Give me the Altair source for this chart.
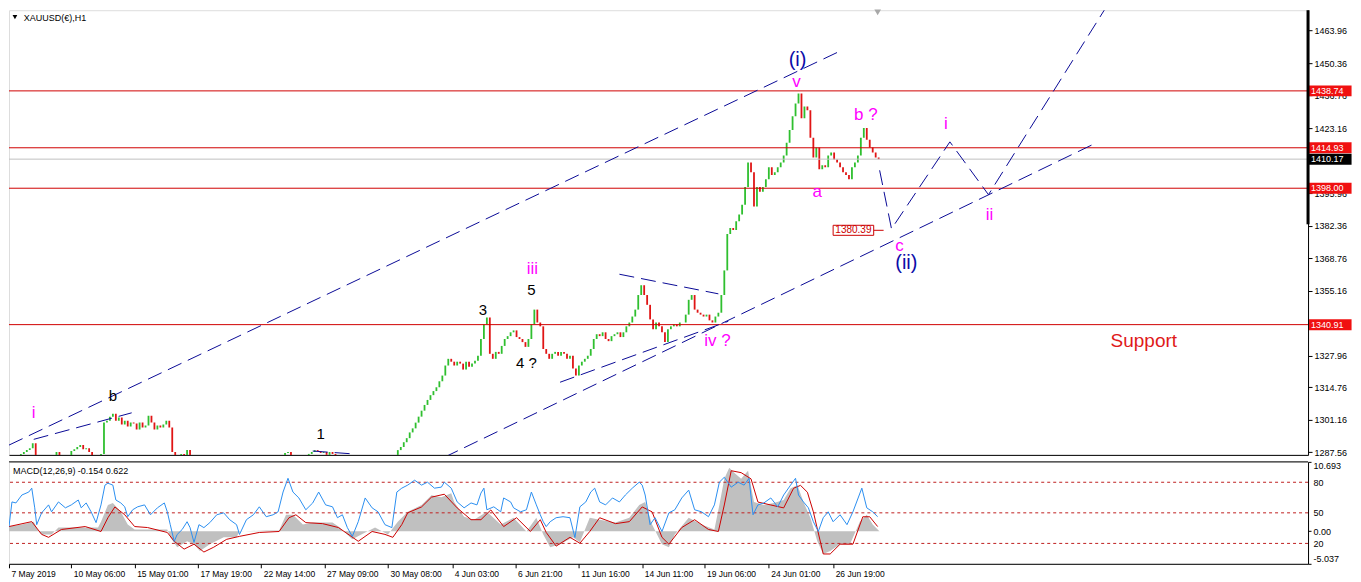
import json
import altair as alt
import pandas as pd

# ---------------- data ----------------
bar_x = list(range(0, 880, 3))
close = [
    1283.5, 1284.3, 1284.7, 1285.5, 1286.8, 1287.6, 1288.4, 1289.2, 1291.3, 1285.5,
    1284.3, 1283.5, 1282.7, 1283.5, 1284.3, 1285.1, 1287.6, 1285.5, 1284.3, 1284.7,
    1285.5, 1288.0, 1288.8, 1289.7, 1290.5, 1288.8, 1289.2, 1287.6, 1285.5, 1284.7,
    1285.1, 1286.8, 1299.9, 1300.7, 1302.4, 1303.6, 1300.7, 1302.0, 1299.1, 1300.7,
    1298.3, 1299.9, 1299.5, 1297.0, 1299.9, 1297.9, 1298.7, 1302.8, 1299.9, 1297.0,
    1298.7, 1297.9, 1299.1, 1300.7, 1297.9, 1287.6, 1284.3, 1285.5, 1286.8, 1285.5,
    1288.4, 1285.9, 1283.5, 1281.4, 1280.2, 1279.4, 1278.5, 1279.4, 1280.2, 1281.0,
    1279.8, 1278.5, 1277.3, 1278.1, 1279.0, 1280.2, 1281.0, 1281.8, 1280.6, 1279.4,
    1280.2, 1281.4, 1282.3, 1281.0, 1280.2, 1281.4, 1282.7, 1281.8, 1281.0, 1282.3,
    1283.5, 1284.3, 1285.5, 1287.2, 1287.6, 1285.5, 1284.3, 1283.5, 1284.3, 1285.1,
    1285.5, 1286.8, 1287.6, 1288.4, 1288.0, 1287.2, 1287.6, 1286.4, 1287.6, 1286.8,
    1285.1, 1283.9, 1282.7, 1281.4, 1280.6, 1279.8, 1279.0, 1279.4, 1280.2, 1281.0,
    1280.2, 1279.4, 1279.8, 1280.6, 1281.4, 1281.0, 1281.8, 1282.7, 1283.5, 1284.3,
    1285.5, 1288.4, 1289.7, 1291.7, 1293.4, 1295.8, 1297.5, 1299.9, 1302.4, 1304.9,
    1307.3, 1309.4, 1311.4, 1313.1, 1314.7, 1317.2, 1319.6, 1323.8, 1326.6, 1325.4,
    1323.8, 1325.4, 1324.6, 1322.1, 1325.4, 1323.3, 1324.6, 1325.8, 1327.9, 1334.9,
    1341.0, 1343.9, 1328.7, 1326.6, 1329.5, 1328.7, 1332.0, 1334.9, 1336.1, 1337.7,
    1338.5, 1335.7, 1334.9, 1333.6, 1331.6, 1334.9, 1341.0, 1347.2, 1341.8, 1340.2,
    1330.7, 1328.7, 1326.6, 1328.7, 1329.5, 1327.9, 1329.5, 1328.7, 1326.6, 1327.9,
    1322.5, 1319.6, 1323.8, 1325.4, 1326.6, 1327.9, 1330.7, 1334.9, 1336.9, 1336.1,
    1337.7, 1334.9, 1334.0, 1336.1, 1336.9, 1337.7, 1335.7, 1337.7, 1340.2, 1341.8,
    1344.3, 1347.2, 1353.3, 1357.4, 1353.3, 1349.2, 1343.1, 1339.0, 1341.8, 1340.2,
    1337.7, 1333.6, 1339.0, 1340.2, 1341.0, 1340.2, 1341.8, 1341.8, 1345.1, 1351.3,
    1353.3, 1347.2, 1345.9, 1345.1, 1344.3, 1345.1, 1342.7, 1341.8, 1344.3, 1345.9,
    1353.3, 1363.6, 1378.8, 1381.3, 1380.5, 1384.2, 1387.0, 1391.1, 1398.5, 1408.8,
    1404.7, 1390.3, 1398.5, 1396.5, 1398.5, 1401.8, 1406.8, 1403.5, 1404.7, 1406.8,
    1408.8, 1411.7, 1417.0, 1422.4, 1428.1, 1433.5, 1437.6, 1427.3, 1432.2, 1430.6,
    1419.1, 1410.9, 1415.0, 1405.9, 1407.6, 1406.8, 1411.7, 1412.9, 1410.0, 1408.8,
    1406.8, 1404.7, 1403.5, 1401.8, 1406.8, 1408.8, 1411.7, 1419.1, 1423.2, 1418.3,
    1415.0, 1412.9, 1410.9, 1410.17,
]

price_lines = [1438.74, 1414.93, 1398.00, 1340.91]
bid_price = 1410.17
box_levels = [1438.74, 1414.93, 1410.17, 1398.00, 1340.91]
box_kind = ["level", "level", "bid", "level", "level"]
target_price = 1380.39

price_ticks = [1463.96, 1450.36, 1436.76, 1423.16, 1409.56, 1395.96, 1382.36,
               1368.76, 1355.16, 1341.56, 1327.96, 1314.76, 1301.16, 1287.56]

time_ticks = [0, 63, 127, 191, 255, 319, 383, 448, 512, 576, 640, 703, 768, 833]
time_labels = ["7 May 2019", "10 May 06:00", "15 May 01:00", "17 May 19:00",
               "22 May 14:00", "27 May 09:00", "30 May 08:00", "4 Jun 03:00",
               "6 Jun 21:00", "11 Jun 16:00", "14 Jun 11:00", "19 Jun 06:00",
               "24 Jun 01:00", "26 Jun 19:00"]

trend_id = ["up", "up", "low", "low", "ib", "ib", "w1", "w1", "iv", "iv",
            "tri", "tri", "proj", "proj", "proj", "proj", "proj"]
trend_x = [0, 837, 440, 1097, 25, 124, 307, 348, 557, 727, 617, 717,
           880, 892, 951, 990, 1112]
trend_p = [1290.5, 1454.8, 1285.4, 1416.6, 1292.9, 1304.0, 1288.0, 1286.8,
           1316.8, 1342.3, 1362.0, 1353.8, 1405.5, 1381.0, 1417.4, 1395.3, 1475.8]

wave_text = ["i", "b", "1", "3", "5", "iii", "4 ?", "iv ?", "(i)", "v", "a",
             "b ?", "i", "c", "(ii)", "ii", "Support"]
wave_x = [25, 105, 315, 479, 528, 529, 523, 716, 797, 796, 817, 866, 947,
          900, 907, 991, 1147]
wave_p = [1304.0, 1311.0, 1295.0, 1347.2, 1355.4, 1364.0, 1325.0, 1334.0,
          1451.5, 1442.5, 1396.5, 1428.5, 1424.8, 1373.9, 1366.9, 1386.6, 1334.0]
wave_kind = ["minor", "count", "count", "count", "count", "minor", "count",
             "minor", "major", "minor", "minor", "minor", "minor", "minor",
             "major", "minor", "note"]

macd_x = [0, 13, 25, 30, 33, 43, 50, 70, 90, 93, 100, 105, 113, 120, 127, 140,
          160, 163, 170, 180, 187, 193, 203, 217, 230, 233, 260, 273, 280, 287,
          297, 307, 327, 333, 347, 360, 370, 383, 393, 403, 417, 427, 437, 447,
          450, 460, 470, 483, 497, 510, 523, 533, 540, 547, 557, 570, 577, 587,
          597, 613, 627, 637, 643, 650, 660, 667, 673, 687, 700, 713, 718, 723,
          728, 733, 740, 747, 753, 763, 773, 783, 790, 797, 803, 810, 817, 823,
          830, 840, 850, 860, 867, 873, 880]
macd_main = [0.71, 1.01, 1.47, -0.05, -0.50, -0.50, 0.56, 0.56, 0.56, 1.47,
             4.04, 4.34, 2.98, 1.01, 0.26, 0.26, 0.26, -0.95, -2.47, -1.56,
             -2.01, -3.07, -2.01, -0.95, -0.95, -0.05, 0.11, 0.11, 2.53, 2.53,
             1.01, 1.32, 1.32, 0.71, -1.26, -0.20, 0.56, -0.50, 1.47, 2.98,
             4.04, 5.55, 5.25, 5.85, 4.49, 2.22, 1.77, 2.98, 1.01, 2.07,
             -0.05, 2.07, -0.50, -2.47, -2.01, -0.95, -1.71, 2.07, 1.77, 1.32,
             2.07, 4.04, 4.49, 1.01, -2.01, -2.47, -0.50, 2.07, 1.01, 0.26, 4.04,
             8.07, 9.79, 9.03, 8.07, 9.33, 4.49, 4.04, 4.34, 4.80, 6.62,
             7.07, 4.49, 2.07, -1.56, -3.52, -3.07, -2.01, -2.01, 1.47, 2.53,
             1.01, -0.05]

signal_x = [0, 23, 33, 40, 53, 77, 93, 100, 107, 117, 127, 140, 160, 167, 177,
            187, 197, 207, 220, 233, 253, 273, 283, 290, 300, 317, 333, 353,
            367, 380, 388, 397, 403, 417, 427, 440, 453, 467, 477, 487, 500,
            513, 527, 537, 543, 553, 567, 577, 587, 597, 613, 627, 640, 650,
            660, 667, 680, 693, 707, 717, 723, 730, 740, 750, 757, 770, 783,
            793, 800, 807, 813, 823, 830, 840, 853, 863, 870, 878]
signal_val = [0.71, 1.47, -0.50, -0.95, 0.26, 0.71, -0.05, 2.07, 3.74, 2.53,
              0.71, 0.56, -0.20, -1.56, -2.77, -2.01, -3.22, -2.47, -1.26, -0.80,
              -0.20, -0.05, 2.07, 2.53, 1.32, 1.16, 0.56, -1.56, -0.05, -0.50,
              -0.95, 1.01, 2.83, 3.74, 5.25, 5.70, 3.59, 1.77, 1.77, 3.28,
              0.71, 2.07, -0.05, 1.77, -0.20, -2.31, -0.95, -1.86, -0.05, 2.07,
              1.16, 1.47, 3.74, 2.98, -0.95, -2.01, 0.56, 1.77, 0.26, -0.05,
              4.04, 9.33, 9.03, 8.07, 4.49, 4.04, 3.59, 6.62, 7.07, 6.01,
              2.98, -3.52, -3.52, -2.01, -2.01, 2.22, 2.22, 0.71]

osc_x = [0, 3, 7, 13, 20, 23, 26, 28, 33, 40, 43, 50, 57, 63, 70, 73, 78, 83,
         88, 93, 97, 100, 105, 108, 113, 117, 120, 125, 130, 137, 143, 150, 157,
         160, 163, 167, 170, 175, 180, 183, 187, 192, 197, 203, 210, 217, 223,
         230, 233, 240, 247, 253, 260, 267, 272, 277, 282, 287, 293, 300, 307,
         313, 320, 327, 332, 337, 342, 347, 353, 360, 367, 373, 380, 387, 392,
         397, 403, 410, 417, 423, 430, 437, 440, 447, 453, 460, 467, 473, 477,
         480, 483, 490, 497, 500, 507, 510, 517, 523, 528, 533, 537, 540, 543,
         547, 553, 560, 567, 572, 577, 583, 588, 592, 597, 603, 610, 617, 623,
         630, 637, 640, 643, 648, 653, 660, 667, 673, 680, 687, 693, 700, 707,
         713, 718, 723, 730, 737, 743, 748, 752, 757, 763, 770, 777, 783, 790,
         795, 798, 803, 808, 813, 818, 823, 828, 833, 840, 847, 853, 862, 867,
         873, 878]
osc_val = [36.5, 60.7, 59.7, 67.5, 70.4, 74.2, 54.9, 38.4, 50.0, 57.8,
           51.0, 60.7, 54.9, 57.8, 62.6, 54.9, 59.7, 51.0, 40.4, 57.8,
           77.2, 79.1, 77.2, 62.6, 59.7, 55.9, 46.2, 53.0, 55.9, 57.8,
           48.1, 54.9, 59.7, 51.0, 38.4, 22.0, 28.8, 33.6, 41.3, 35.5,
           21.0, 38.4, 35.5, 40.4, 48.1, 50.0, 43.3, 38.4, 28.8, 43.3,
           48.1, 55.9, 46.2, 48.1, 51.0, 70.4, 83.9, 70.4, 64.6, 53.0,
           59.7, 70.4, 57.8, 55.9, 45.2, 48.1, 35.5, 26.8, 41.3, 64.6,
           54.9, 51.0, 38.4, 35.5, 70.4, 74.2, 77.2, 82.0, 77.2, 80.1,
           74.2, 75.2, 80.1, 74.2, 60.7, 54.9, 59.7, 57.8, 69.4, 74.2,
           53.0, 55.9, 51.0, 64.6, 60.7, 54.9, 51.0, 53.0, 70.4, 57.8,
           48.1, 41.3, 36.5, 41.3, 45.2, 46.2, 45.2, 25.8, 55.9, 60.7,
           70.4, 74.2, 60.7, 57.8, 64.6, 60.7, 67.5, 74.2, 80.1, 77.2,
           67.5, 38.4, 45.2, 31.7, 50.0, 53.0, 64.6, 72.3, 53.0, 51.0,
           46.2, 57.8, 80.1, 84.9, 75.2, 80.1, 77.2, 83.9, 48.1, 57.8,
           59.7, 64.6, 55.9, 67.5, 77.2, 83.9, 67.5, 60.7, 54.9, 41.3,
           31.7, 45.2, 51.0, 41.3, 48.1, 38.4, 51.0, 74.2, 54.9, 51.0,
           46.2]
osc_levels = [80, 50, 20]
macd_axis_values = [10.693, 0, -5.037]
macd_axis_labels = ["10.693", "0.00", "-5.037"]

# ---------------- layout / style ----------------
W, HM, HB = 1300, 445, 102
X_END = 1313
FONT = "Liberation Sans"
MAGENTA = "#ff00ff"
NAVY = "#0c0ca8"
LINE_RED = "#d00000"
TREND = "#0a0a96"

xs = alt.Scale(domain=[0, X_END], nice=False, zero=False)
ps = alt.Scale(domain=[1286.4, 1472.5], nice=False, zero=False)
ms = alt.Scale(domain=[-5.037, 10.693], nice=False, zero=False)
osc_scale = alt.Scale(domain=[0, 100], nice=False, zero=False)

x_main_axis = alt.Axis(title=None, labels=False, ticks=False, domain=True,
                       domainColor="black", grid=False, orient="bottom")
price_axis = alt.Axis(title=None, orient="right", values=price_ticks, format=".2f",
                      grid=False, domainColor="black", tickColor="black", tickSize=4,
                      labelFontSize=9, labelPadding=2, labelColor="black",
                      labelFont=FONT, labelFlush=False, labelOverlap=False)

time_expr = f"{json.dumps(time_labels)}[indexof({json.dumps(time_ticks)}, datum.value)]"
time_axis = alt.Axis(title=None, orient="bottom", values=time_ticks, labelExpr=time_expr,
                     labelAlign="left", labelOffset=2, tickSize=4, tickColor="black",
                     domainColor="black", labelFontSize=8.5, labelPadding=2,
                     labelColor="black", labelFont=FONT, labelOverlap=False,
                     labelFlush=False, grid=False)
macd_expr = (f"{json.dumps(macd_axis_labels)}"
             f"[indexof({json.dumps(macd_axis_values)}, datum.value)]")
macd_axis = alt.Axis(title=None, orient="right", values=macd_axis_values,
                     labelExpr=macd_expr, grid=False, domainColor="black",
                     tickColor="black", tickSize=3, labelFontSize=9, labelPadding=2,
                     labelColor="black", labelFont=FONT, labelFlush=True,
                     labelOverlap=False)
osc_axis = alt.Axis(title=None, orient="right", values=osc_levels, format="d",
                    grid=False, domain=False, ticks=False, labelFontSize=9,
                    labelPadding=5, labelColor="black", labelFont=FONT,
                    labelFlush=False, labelOverlap=False)


def PX(f):
    return alt.X(f, type="quantitative", scale=xs, axis=x_main_axis)


def PY(f):
    return alt.Y(f, type="quantitative", scale=ps, axis=price_axis)


def MX(f):
    return alt.X(f, type="quantitative", scale=xs, axis=time_axis)


# ---------------- main price panel ----------------
cdf = pd.DataFrame({"x": bar_x, "close": close})
cdf["open"] = cdf["close"].shift(1).fillna(cdf["close"])
cdf["dir"] = ["up" if c >= o else "down" for o, c in zip(cdf["open"], cdf["close"])]

candle_up = alt.Chart(cdf).transform_filter(alt.datum.dir == "up").mark_rule(
    strokeWidth=1.8, clip=True, color="#2fbf2f").encode(
    x=PX("x"), y=PY("open"), y2="close")
candle_down = alt.Chart(cdf).transform_filter(alt.datum.dir == "down").mark_rule(
    strokeWidth=1.8, clip=True, color="#e01515").encode(
    x=PX("x"), y=PY("open"), y2="close")

hl = alt.Chart(pd.DataFrame({"p": price_lines})).mark_rule(
    color=LINE_RED, strokeWidth=1).encode(y=PY("p"))
bid = alt.Chart(pd.DataFrame({"p": [bid_price]})).mark_rule(
    color="#c0c0c0", strokeWidth=1).encode(y=PY("p"))

tdf = pd.DataFrame({"id": trend_id, "x": trend_x, "p": trend_p})
trends = alt.Chart(tdf).mark_line(color=TREND, strokeWidth=1, strokeDash=[15, 7],
                                  clip=True).encode(x=PX("x"), y=PY("p"), detail="id:N")

wdf = pd.DataFrame({"t": wave_text, "x": wave_x, "p": wave_p, "k": wave_kind})
label_style = {"minor": (MAGENTA, 17), "count": ("black", 15),
               "major": (NAVY, 20), "note": ("#e01a1a", 19)}
wave_layers = []
for k, (col, fs) in label_style.items():
    wave_layers.append(
        alt.Chart(wdf).transform_filter(alt.datum.k == k).mark_text(
            color=col, fontSize=fs, font=FONT, align="center", baseline="middle"
        ).encode(x=PX("x"), y=PY("p"), text="t:N"))

title_df = pd.DataFrame({"x": [15], "p": [1469.4], "t": ["XAUUSD(€),H1"]})
title_txt = alt.Chart(title_df).mark_text(align="left", baseline="middle", fontSize=9,
                                          font=FONT, color="black").encode(
    x=PX("x"), y=PY("p"), text="t:N")
tri_df = pd.DataFrame({"x": [6], "p": [1469.6]})
title_tri = alt.Chart(tri_df).mark_point(shape="triangle-down", filled=True, size=22,
                                         color="black", opacity=1).encode(
    x=PX("x"), y=PY("p"))
shift_df = pd.DataFrame({"x": [878], "p": [1471.6]})
shift_tri = alt.Chart(shift_df).mark_point(shape="triangle-down", filled=True, size=45,
                                           color="#a8a8a8", opacity=1).encode(
    x=PX("x"), y=PY("p"))

# price tags on the right axis
bdf = pd.DataFrame({"p": box_levels, "kind": box_kind})
bdf["label"] = [f"{v:.2f}" for v in box_levels]
bdf["top"] = bdf["p"] + 2.3
bdf["bot"] = bdf["p"] - 2.3
bdf["x0"] = X_END + 1
bdf["x1"] = X_END + 44
bdf["xt"] = X_END + 3
tag_red = alt.Chart(bdf).transform_filter(alt.datum.kind == "level").mark_rect(
    clip=False, color="#f01010").encode(x=PX("x0"), x2="x1", y=PY("top"), y2="bot")
tag_black = alt.Chart(bdf).transform_filter(alt.datum.kind == "bid").mark_rect(
    clip=False, color="#000000").encode(x=PX("x0"), x2="x1", y=PY("top"), y2="bot")
tag_text = alt.Chart(bdf).mark_text(align="left", baseline="middle", fontSize=9,
                                    font=FONT, color="white", clip=False).encode(
    x=PX("xt"), y=PY("p"), text="label:N")

# right-edge thick marker
edge_df = pd.DataFrame({"x": [X_END], "p0": [1472.5], "p1": [1382.9]})
edge = alt.Chart(edge_df).mark_rule(color="black", strokeWidth=3, clip=False).encode(
    x=PX("x"), y=PY("p0"), y2="p1")

# 1380.39 target tag
tg_df = pd.DataFrame({"x0": [833], "x1": [874], "xc": [853.5], "xl": [884],
                      "p": [target_price], "top": [target_price + 2.1],
                      "bot": [target_price - 2.1], "t": [f"{target_price:.2f}"]})
tg_line = alt.Chart(tg_df).mark_rule(color="#cc0000", strokeWidth=1).encode(
    x=PX("x1"), x2="xl", y=PY("p"))
tg_rect = alt.Chart(tg_df).mark_rect(fill="white", stroke="#cc0000", strokeWidth=1).encode(
    x=PX("x0"), x2="x1", y=PY("top"), y2="bot")
tg_text = alt.Chart(tg_df).mark_text(align="center", baseline="middle", fontSize=10,
                                     font=FONT, color="#cc0000").encode(
    x=PX("xc"), y=PY("p"), text="t:N")

main = alt.layer(
    candle_up, candle_down, hl, bid, trends, *wave_layers, title_tri, title_txt,
    shift_tri, tg_line, tg_rect, tg_text, tag_red, tag_black, tag_text, edge
).properties(width=W, height=HM)

# ---------------- MACD panel ----------------
gdf = pd.DataFrame({"x": macd_x, "m": macd_main})
sdf = pd.DataFrame({"x": signal_x, "m": signal_val})
odf = pd.DataFrame({"x": osc_x, "v": osc_val})
ldf = pd.DataFrame({"v": osc_levels})

grey = alt.Chart(gdf).mark_area(color="#c0c0c0", clip=True).encode(
    x=MX("x"), y=alt.Y("m:Q", scale=ms, axis=macd_axis), y2=alt.datum(0))
signal = alt.Chart(sdf).mark_line(color="#cc0000", strokeWidth=1, clip=True).encode(
    x=MX("x"), y=alt.Y("m:Q", scale=ms, axis=macd_axis))
top_border = alt.Chart(pd.DataFrame({"m": [10.693]})).mark_rule(
    color="black", strokeWidth=1).encode(y=alt.Y("m:Q", scale=ms, axis=macd_axis))
mt_df = pd.DataFrame({"x": [4], "m": [9.3], "t": ["MACD(12,26,9) -0.154 0.622"]})
mtitle = alt.Chart(mt_df).mark_text(align="left", baseline="middle", fontSize=9,
                                    font=FONT, color="black").encode(
    x=MX("x"), y=alt.Y("m:Q", scale=ms, axis=macd_axis), text="t:N")

levels = alt.Chart(ldf).mark_rule(color="#c02020", strokeWidth=1,
                                  strokeDash=[3, 3]).encode(
    y=alt.Y("v:Q", scale=osc_scale, axis=osc_axis))
osc = alt.Chart(odf).mark_line(color="#2b8ff0", strokeWidth=1, clip=True).encode(
    x=MX("x"), y=alt.Y("v:Q", scale=osc_scale, axis=osc_axis))

macd = alt.layer(
    alt.layer(grey, signal, top_border, mtitle),
    alt.layer(levels, osc),
).resolve_scale(y="independent").properties(width=W, height=HB)

chart = alt.vconcat(main, macd, spacing=3).properties(
    padding={"left": 0, "top": 0, "right": 0, "bottom": 0}
).configure_view(stroke=None).configure(font=FONT, background="white")

chart.save("out.html", embed_options={"renderer": "svg", "actions": False})
